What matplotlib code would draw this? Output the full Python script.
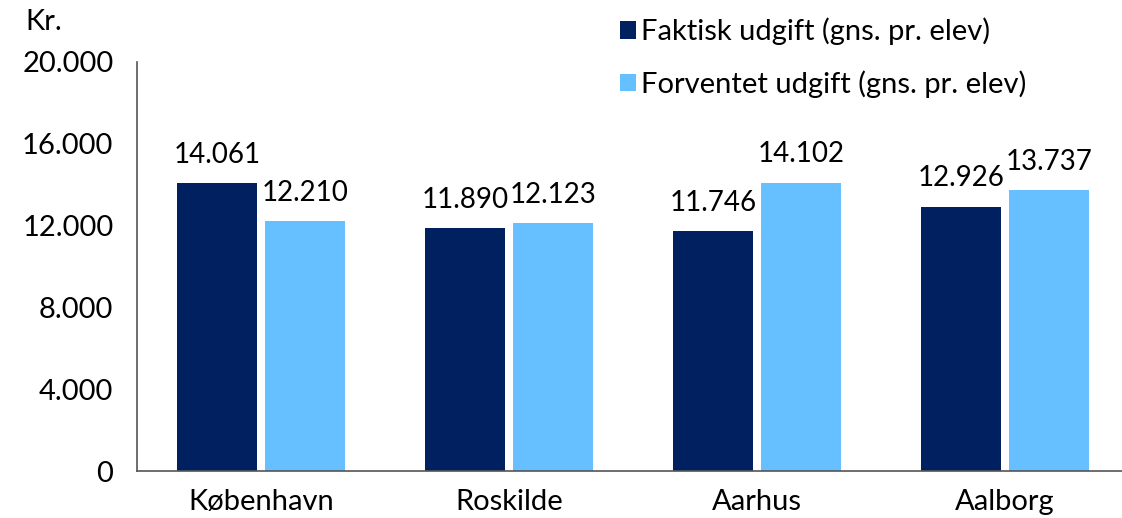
import numpy as np
import matplotlib
matplotlib.use("Agg")
import matplotlib.pyplot as plt

plt.rcParams['font.family'] = ['Lato', 'DejaVu Sans']

# data
kommuner = ["København", "Roskilde", "Aarhus", "Aalborg"]
faktisk = [14061, 11890, 11746, 12926]
forventet = [12210, 12123, 14102, 13737]
yticks = [0, 4000, 8000, 12000, 16000, 20000]
ytick_labels = ["0", "4.000", "8.000", "12.000", "16.000", "20.000"]

dark = "#002060"
light = "#66BFFF"
fs = 21

W, H = 1122, 518
fig = plt.figure(figsize=(W / 100, H / 100), dpi=100)
ax = fig.add_axes([137 / W, (H - 471) / H, (W - 137) / W, 409 / H])

x = np.arange(len(kommuner))
bw = 80 / 248
off = 44 / 248
b1 = ax.bar(x - off, faktisk, bw, color=dark, label="Faktisk udgift (gns. pr. elev)")
b2 = ax.bar(x + off, forventet, bw, color=light, label="Forventet udgift (gns. pr. elev)")

def fmt(v):
    return f"{v:,}".replace(",", ".")

for bars, vals in [(b1, faktisk), (b2, forventet)]:
    for r, v in zip(bars, vals):
        ax.annotate(fmt(v), (r.get_x() + r.get_width() / 2, v),
                    xytext=(0, 11), textcoords="offset points",
                    ha="center", va="bottom", fontsize=20)

ax.set_xlim(-0.5, -0.5 + (W - 137) / 248)
ax.set_ylim(0, 20000)
ax.set_yticks(yticks)
ax.set_yticklabels(ytick_labels)
ax.set_xticks(x)
ax.set_xticklabels(kommuner)
ax.tick_params(axis="y", length=0, pad=17, labelsize=fs)
ax.tick_params(axis="x", length=0, pad=13, labelsize=fs)
for s in ["top", "right"]:
    ax.spines[s].set_visible(False)
for s in ["left", "bottom"]:
    ax.spines[s].set_color("#555555")
    ax.spines[s].set_linewidth(1.2)

fig.text(25 / W, 1 - 22 / H, "Kr.", fontsize=fs, va="center", ha="left")

fig.legend(loc="upper left", bbox_to_anchor=(608 / W, 1 - 6 / H), frameon=False,
           fontsize=fs, handlelength=0.55, handleheight=0.55, handletextpad=0.17,
           labelspacing=0.85, borderaxespad=0)

fig.savefig("out.png", dpi=100)
